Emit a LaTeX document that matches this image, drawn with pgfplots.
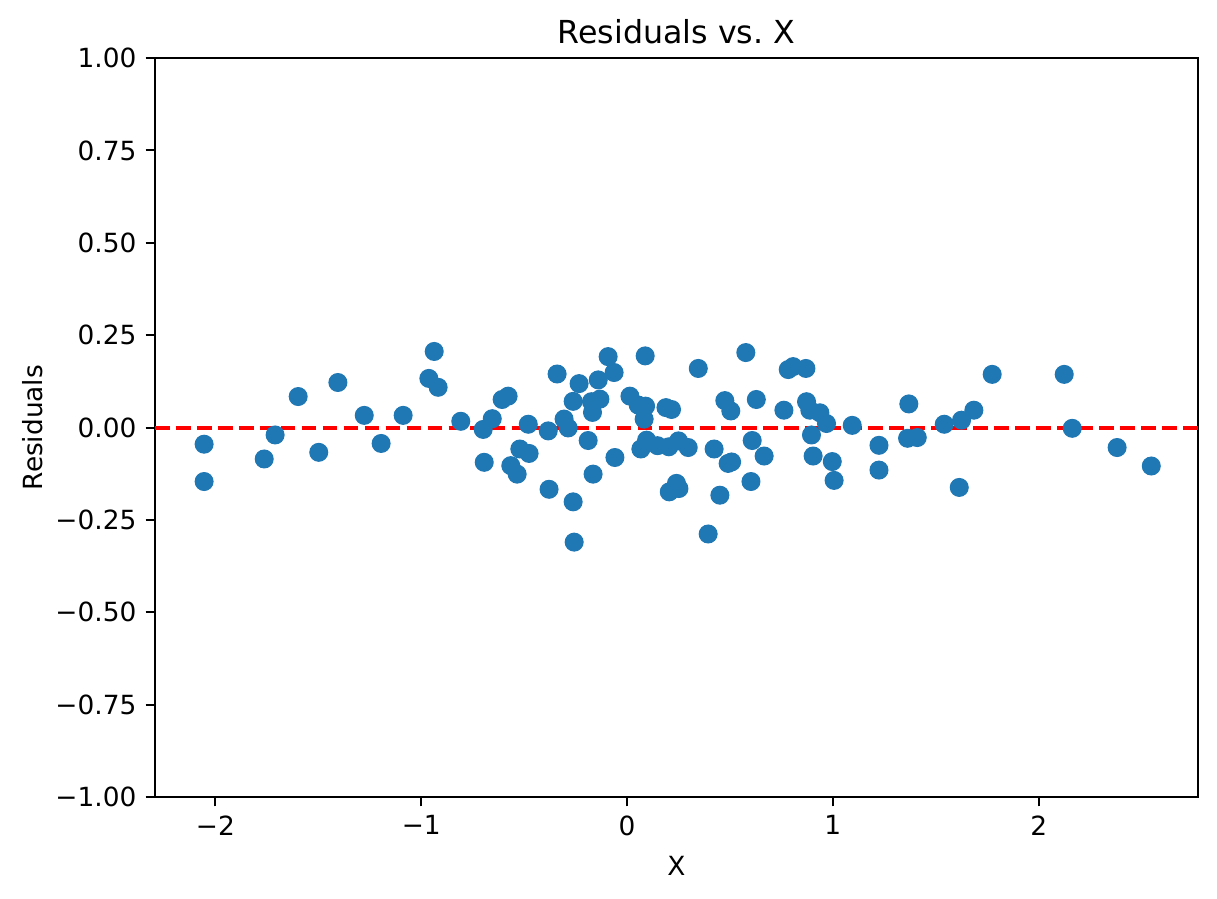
\documentclass[border=0pt]{standalone}
\usepackage{pgfplots}
\pgfplotsset{compat=1.18}
\usepackage{fontspec}
\setmainfont{DejaVu Sans}
\definecolor{c0}{HTML}{1F77B4}
\begin{document}
\begin{tikzpicture}
\begin{axis}[
  scale only axis,
  width=395.2pt, height=280pt,
  xmin=-2.294, xmax=2.774, ymin=-1, ymax=1,
  xtick={-2,-1,0,1,2},
  xticklabels={−2,−1,0,1,2},
  ytick={-1,-0.75,-0.5,-0.25,0,0.25,0.5,0.75,1},
  yticklabels={−1.00,−0.75,−0.50,−0.25,0.00,0.25,0.50,0.75,1.00},
  tick align=outside, xtick pos=left, ytick pos=left,
  major tick length=3.5pt,
  every tick/.style={black, line width=0.8pt},
  axis line style={line width=0.8pt},
  tick label style={font=\fontsize{10}{12}\selectfont},
  label style={font=\fontsize{10}{12}\selectfont},
  xlabel={X}, ylabel={Residuals},
  xlabel style={yshift=-1pt},
  ylabel style={yshift=-2pt},
  title={Residuals vs.\ X},
  title style={font=\fontsize{12}{14}\selectfont, yshift=-4pt},
  clip=false,
]
\addplot[only marks, mark=*, mark size=3.4pt, c0, mark options={draw=c0, fill=c0}] coordinates {
(-2.055,-0.045) (-2.055,-0.146) (-1.763,-0.085) (-1.710,-0.020) (-1.598,0.084)
(-1.498,-0.067) (-1.405,0.122) (-1.277,0.033) (-1.195,-0.043) (-1.088,0.033)
(-0.963,0.133) (-0.937,0.206) (-0.918,0.109) (-0.808,0.017) (-0.699,-0.005)
(-0.694,-0.094) (-0.655,0.024) (-0.607,0.076) (-0.578,0.085) (-0.521,-0.058)
(-0.476,-0.070) (-0.565,-0.103) (-0.534,-0.126) (-0.480,0.009) (-0.383,-0.009)
(-0.379,-0.167) (-0.340,0.145) (-0.306,0.023) (-0.286,-0.001) (-0.262,-0.201)
(-0.257,-0.310) (-0.262,0.071) (-0.233,0.119) (-0.189,-0.035) (-0.173,0.070)
(-0.168,0.041) (-0.165,-0.126) (-0.140,0.129) (-0.132,0.077) (-0.092,0.192)
(-0.063,0.149) (-0.059,-0.081) (0.014,0.085) (0.054,0.061) (0.090,0.058)
(0.083,0.023) (0.088,0.194) (0.067,-0.058) (0.095,-0.034) (0.148,-0.049)
(0.189,0.054) (0.216,0.049) (0.203,-0.052) (0.250,-0.036) (0.297,-0.054)
(0.205,-0.174) (0.240,-0.151) (0.252,-0.165) (0.346,0.160) (0.394,-0.288)
(0.423,-0.058) (0.451,-0.183) (0.475,0.073) (0.504,0.045) (0.491,-0.097)
(0.508,-0.093) (0.577,0.203) (0.608,-0.035) (0.602,-0.146) (0.628,0.076)
(0.666,-0.077) (0.762,0.047) (0.783,0.157) (0.807,0.165) (0.869,0.160)
(0.872,0.070) (0.888,0.047) (0.896,-0.020) (0.904,-0.077) (0.937,0.040)
(0.969,0.011) (0.997,-0.092) (1.006,-0.143) (1.094,0.006) (1.224,-0.048)
(1.224,-0.115) (1.369,0.064) (1.363,-0.029) (1.410,-0.027) (1.541,0.009)
(1.625,0.020) (1.614,-0.162) (1.685,0.047) (1.774,0.144) (2.124,0.144)
(2.163,-0.002) (2.381,-0.054) (2.547,-0.104)
};
\addplot[red, line width=1.5pt, dash pattern=on 5.55pt off 2.4pt] coordinates {(-2.294,0) (2.774,0)};
\end{axis}
\pgfresetboundingbox
\path[use as bounding box] ([xshift=-58.7pt,yshift=-38.3pt]current axis.south west) rectangle ([xshift=7.2pt,yshift=22pt]current axis.north east);
\end{tikzpicture}
\end{document}
